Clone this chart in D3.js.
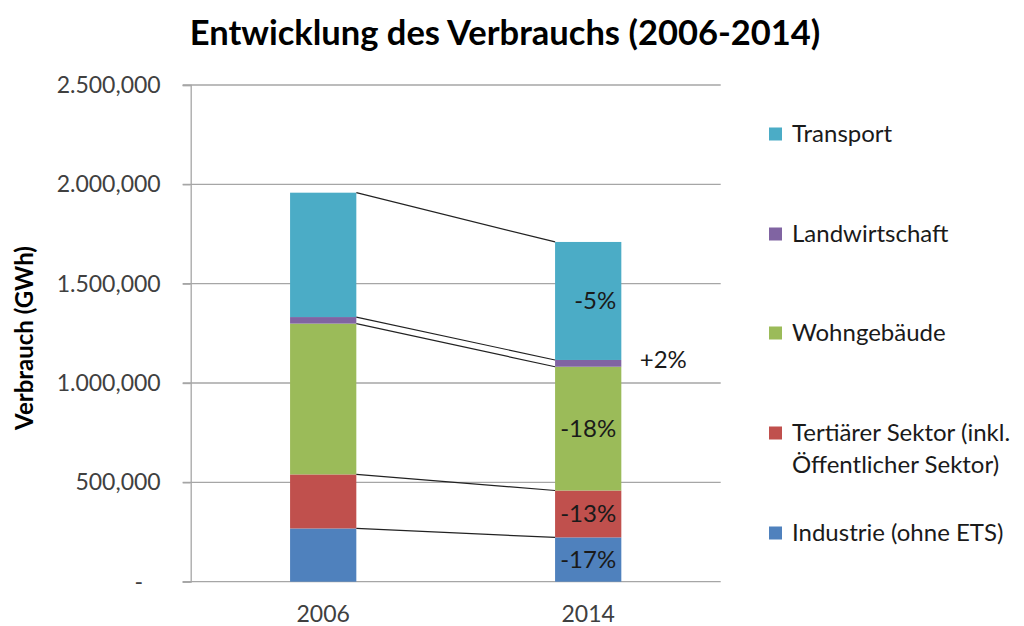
<!DOCTYPE html>
<html>
<head>
<meta charset="utf-8">
<script src="https://cdn.jsdelivr.net/npm/d3@7"></script>
<style>
  body { margin: 0; background: #fff; }
  svg { display: block; font-family: Lato, "Open Sans", sans-serif; }
</style>
</head>
<body>
<svg id="chart" width="1024" height="626"></svg>
<script>
// ---- data ----
const years = ["2006", "2014"];
const seriesKeys = ["Industrie", "Tertiaer", "Wohngebaeude", "Landwirtschaft", "Transport"];
const industrie = [268000, 223000];
const tertiaer = [272000, 236000];
const wohngebaeude = [759000, 623000];
const landwirtschaft = [33000, 34000];
const transport = [626000, 594000];
const changeLabels = ["-17%", "-13%", "-18%", "+2%", "-5%"];
const legendLabels = [
  ["Industrie (ohne ETS)"],
  ["Tertiärer Sektor (inkl.", "Öffentlicher Sektor)"],
  ["Wohngebäude"],
  ["Landwirtschaft"],
  ["Transport"]
];
const colors = ["#4F81BD", "#C0504D", "#9BBB59", "#8064A2", "#4BACC6"];
const tickValues = [0, 500000, 1000000, 1500000, 2000000, 2500000];
const tickLabels = ["-\u00a0\u00a0\u00a0", "500,000", "1.000,000", "1.500,000", "2.000,000", "2.500,000"];
const titleText = "Entwicklung des Verbrauchs (2006-2014)";
const yAxisTitle = "Verbrauch (GWh)";

// ---- layout ----
const svg = d3.select("#chart");
const mLeft = 190.7, mRight = 720.7, mTop = 85, mBottom = 581.7;

const table = years.map((yr, i) => ({
  year: yr,
  Industrie: industrie[i],
  Tertiaer: tertiaer[i],
  Wohngebaeude: wohngebaeude[i],
  Landwirtschaft: landwirtschaft[i],
  Transport: transport[i]
}));
const stacked = d3.stack().keys(seriesKeys)(table);

const x = d3.scaleBand().domain(years).range([mLeft, mRight]).padding(0);
const barW = x.bandwidth() * 0.25;
const bx = d => x(d) + (x.bandwidth() - barW) / 2;
const y = d3.scaleLinear().domain([0, 2500000]).range([mBottom, mTop]);

// gridlines
svg.append("g").selectAll("line").data(tickValues).join("line")
  .attr("x1", mLeft - 8).attr("x2", mRight)
  .attr("y1", d => y(d)).attr("y2", d => y(d))
  .attr("stroke", "#a6a6a6").attr("stroke-width", 1.3);

// y axis
const yAxis = d3.axisLeft(y).tickValues(tickValues)
  .tickFormat((d, i) => tickLabels[i]).tickSize(8).tickPadding(22);
const gy = svg.append("g").attr("transform", `translate(${mLeft},0)`).call(yAxis);
gy.selectAll("path,line").attr("stroke", "#a6a6a6").attr("stroke-width", 1.3);
gy.selectAll("text").attr("font-family", "Lato, sans-serif").attr("font-size", 23).attr("fill", "#404040");

// x axis labels
const xAxis = d3.axisBottom(x).tickSize(0).tickPadding(24);
const gx = svg.append("g").attr("transform", `translate(0,${mBottom})`).call(xAxis);
gx.select("path").remove();
gx.selectAll("text").attr("font-family", "Lato, sans-serif").attr("font-size", 23).attr("fill", "#404040");

// bars
svg.append("g").selectAll("g").data(stacked).join("g")
  .attr("fill", (d, i) => colors[i])
  .selectAll("rect").data(d => d).join("rect")
  .attr("x", d => bx(d.data.year))
  .attr("width", barW)
  .attr("y", d => y(d[1]))
  .attr("height", d => y(d[0]) - y(d[1]));

// series lines
svg.append("g").selectAll("line").data(stacked).join("line")
  .attr("x1", bx(years[0]) + barW)
  .attr("x2", bx(years[1]))
  .attr("y1", d => y(d[0][1]))
  .attr("y2", d => y(d[1][1]))
  .attr("stroke", "#222").attr("stroke-width", 1.2);

// change labels (2014)
svg.append("g").selectAll("text").data(stacked).join("text")
  .attr("x", (d, i) => {
    const cx = bx(years[1]) + barW / 2;
    if (i === 3) return bx(years[1]) + barW + 42;
    if (i === 4) return cx + 7;
    return cx;
  })
  .attr("y", (d, i) => i === 3 ? y(d[1][1]) : (y(d[1][0]) + y(d[1][1])) / 2)
  .attr("dy", "0.35em")
  .attr("text-anchor", "middle")
  .attr("font-size", 24).attr("fill", "#1a1a1a")
  .text((d, i) => changeLabels[i]);

// legend
const legendY = [533, 449, 333, 234, 134];
const lg = svg.append("g").selectAll("g").data(legendLabels).join("g")
  .attr("transform", (d, i) => `translate(769,${legendY[i]})`);
lg.append("rect")
  .attr("x", 0).attr("width", 13).attr("height", 13)
  .attr("y", (d) => d.length > 1 ? -16 - 6.5 : -6.5)
  .attr("fill", (d, i) => colors[i]);
lg.each(function(d) {
  const g = d3.select(this);
  const n = d.length;
  d.forEach((line, j) => {
    g.append("text").attr("x", 23)
      .attr("y", (j - (n - 1) / 2) * 32)
      .attr("dy", "0.35em")
      .attr("font-size", 24).attr("fill", "#1a1a1a")
      .text(line);
  });
});

// title
svg.append("text").attr("x", 505).attr("y", 33).attr("dy", "0.35em")
  .attr("text-anchor", "middle").attr("font-weight", "bold")
  .attr("font-size", 34.5).attr("fill", "#000").text(titleText);

// y axis title
svg.append("text")
  .attr("transform", `translate(25,338) rotate(-90)`)
  .attr("dy", "0.35em").attr("text-anchor", "middle")
  .attr("font-weight", "bold").attr("font-size", 24).attr("fill", "#000")
  .text(yAxisTitle);
</script>
</body>
</html>
